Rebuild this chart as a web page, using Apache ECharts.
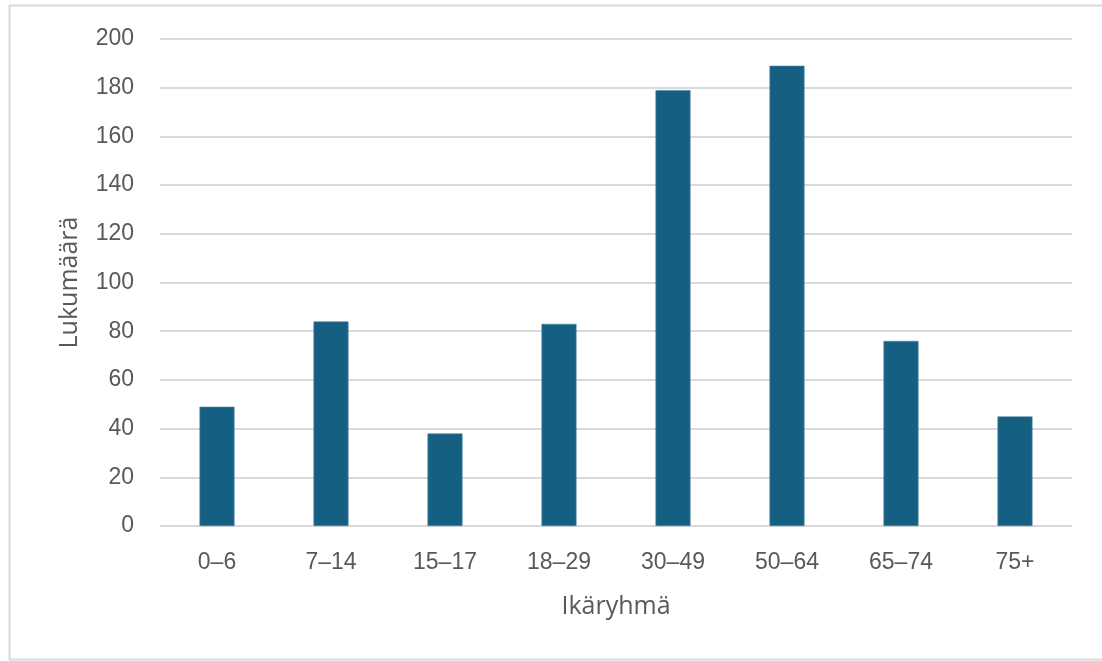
<!DOCTYPE html>
<html><head><meta charset="utf-8">
<script src="https://cdn.jsdelivr.net/npm/echarts@6/dist/echarts.min.js"></script>
<style>html,body{margin:0;padding:0;background:#fff}#c{width:1102px;height:661px}</style>
</head><body><div id="c"></div>
<script>
const categories = ['0–6','7–14','15–17','18–29','30–49','50–64','65–74','75+'];
const values = [49, 84, 38, 83, 179, 189, 76, 45];
const yTicks = {min:0, max:200, interval:20};
const chart = echarts.init(document.getElementById('c'));
chart.setOption({
  backgroundColor:'#fff',
  animation:false,
  graphic:[{type:'rect',shape:{x:9.5,y:5.5,width:1200,height:654},style:{fill:'none',stroke:'#d9d9d9',lineWidth:2}}],
  grid:{left:160,right:30,top:39,bottom:135},
  xAxis:{type:'category',data:categories,
    axisLine:{show:false},axisTick:{show:false},
    axisLabel:{color:'#595959',fontSize:23,fontFamily:'Liberation Sans, Arial',margin:25},
    name:'Ikäryhmä',nameLocation:'middle',nameGap:68,
    nameTextStyle:{color:'#595959',fontSize:25,fontFamily:'Open Sans'}},
  yAxis:{type:'value',min:yTicks.min,max:yTicks.max,interval:yTicks.interval,
    axisLine:{show:false},axisTick:{show:false},
    splitLine:{lineStyle:{color:'#d9d9d9',width:2}},
    axisLabel:{color:'#595959',fontSize:23,fontFamily:'Liberation Sans, Arial',margin:26},
    name:'Lukumäärä',nameLocation:'middle',nameGap:78,
    nameTextStyle:{color:'#595959',fontSize:25,fontFamily:'Open Sans'}},
  series:[{type:'bar',data:values,barWidth:35,
    itemStyle:{color:'#156082',borderColor:'#4a86a3',borderWidth:0.6}}]
});
</script></body></html>
